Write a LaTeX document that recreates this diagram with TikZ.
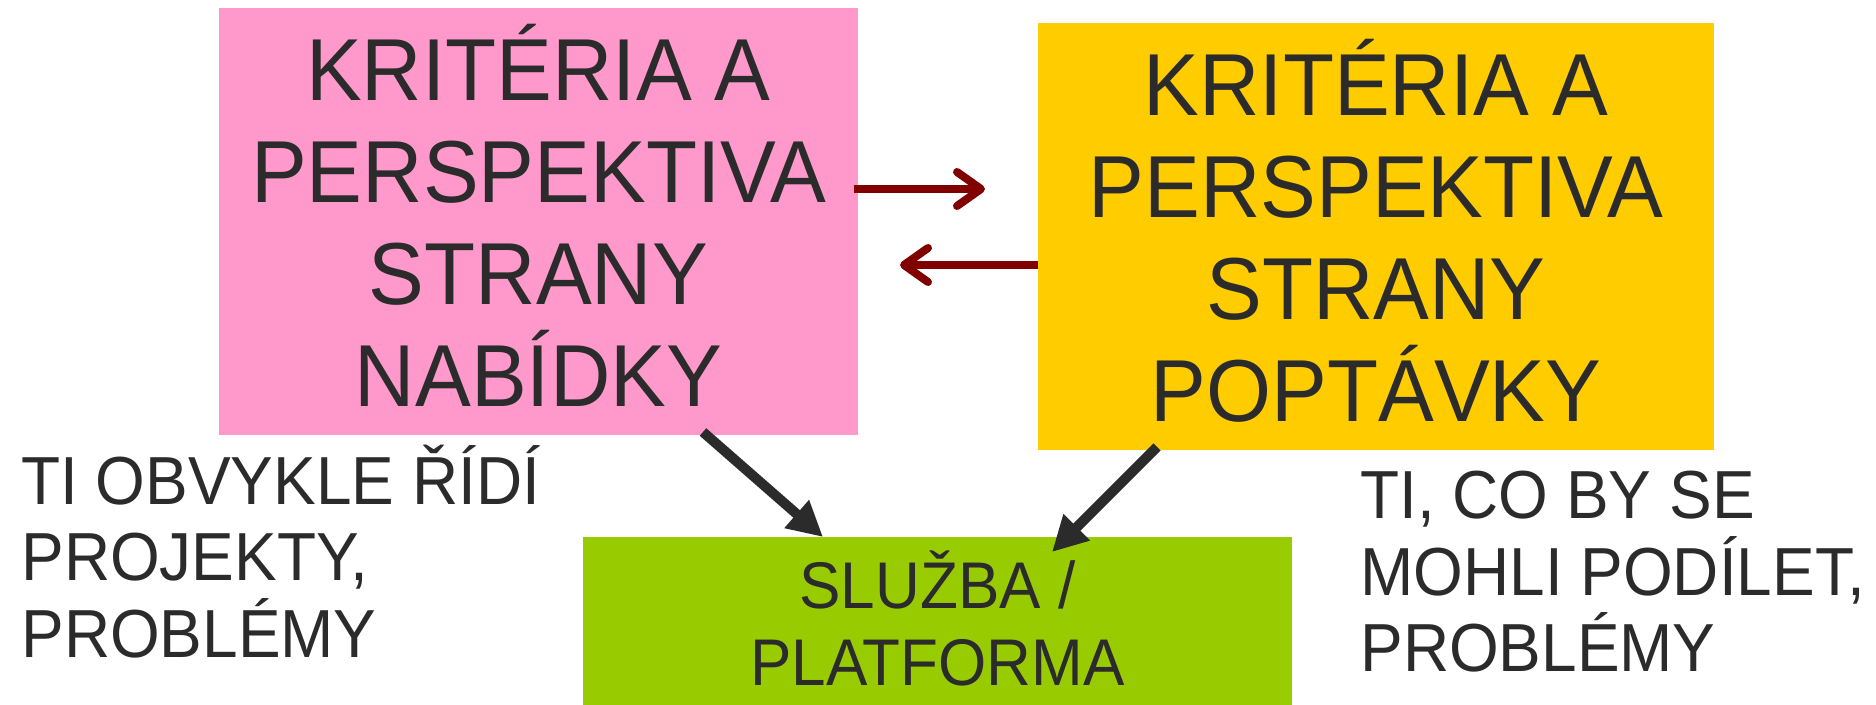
\documentclass[tikz,border=0pt]{standalone}
\usepackage{fontspec}
\setmainfont{Liberation Sans}
\newfontfamily\narrowfont[FakeStretch=0.95]{Liberation Sans}
\newfontfamily\sidefont[FakeStretch=0.94]{Liberation Sans}
\usetikzlibrary{arrows.meta}
\definecolor{pinkc}{HTML}{FF99CC}
\definecolor{yellowc}{HTML}{FFCC00}
\definecolor{greenc}{HTML}{99CC00}
\definecolor{txt}{HTML}{2B2B2B}
\definecolor{redc}{HTML}{800000}
\begin{document}
\begin{tikzpicture}[x=0.5pt,y=-0.5pt,
  box/.style={rectangle, inner sep=0pt, align=center, text=txt},
  bigtext/.style={font=\narrowfont\fontsize{44pt}{51pt}\selectfont},
  sidetext/.style={inner sep=0pt, align=left, text=txt, font=\sidefont\fontsize{34pt}{38.5pt}\selectfont},
  redarrow/.style={draw=redc, line width=4pt, -{Straight Barb[length=12pt,width=17pt,round]}},
  blkarrow/.style={draw=txt, line width=5pt, -{Triangle[length=17.5pt,width=17.5pt]}}]
\useasboundingbox[fill=white] (0,0) rectangle (1876,705);
\node[box, fill=pinkc, minimum width=319.5pt, minimum height=213.5pt, bigtext] (pink) at (538.5,221.5)
  {KRITÉRIA A\\PERSPEKTIVA\\STRANY\\NABÍDKY\rule[-6pt]{0pt}{6pt}};
\node[box, fill=yellowc, minimum width=338pt, minimum height=213.5pt, bigtext] (yellow) at (1376,236.5)
  {KRITÉRIA A\\PERSPEKTIVA\\STRANY\\POPTÁVKY\rule[-6pt]{0pt}{6pt}};
\node[box, fill=greenc, minimum width=354.5pt, minimum height=84pt, font=\sidefont\fontsize{33pt}{38.5pt}\selectfont] (green) at (937.5,621)
  {SLUŽBA /\\PLATFORMA\rule[-3pt]{0pt}{3pt}};
\node[sidetext, anchor=base west] (lt) at (21,658) {TI OBVYKLE ŘÍDÍ\\PROJEKTY,\\PROBLÉMY};
\node[sidetext, anchor=base west] (rt) at (1360,672) {TI, CO BY SE\\MOHLI PODÍLET,\\PROBLÉMY};
\coordinate (r1s) at (854,189);
\coordinate (r1e) at (985,189);
\coordinate (r2s) at (1038,265);
\coordinate (r2e) at (900,265);
\coordinate (b1s) at (703,432);
\coordinate (b1e) at (823,537);
\coordinate (b2s) at (1157,447);
\coordinate (b2e) at (1052,552);
\draw[redarrow] (r1s) -- (r1e);
\draw[redarrow] (r2s) -- (r2e);
\draw[blkarrow] (b1s) -- (b1e);
\draw[blkarrow] (b2s) -- (b2e);
\end{tikzpicture}
\end{document}
